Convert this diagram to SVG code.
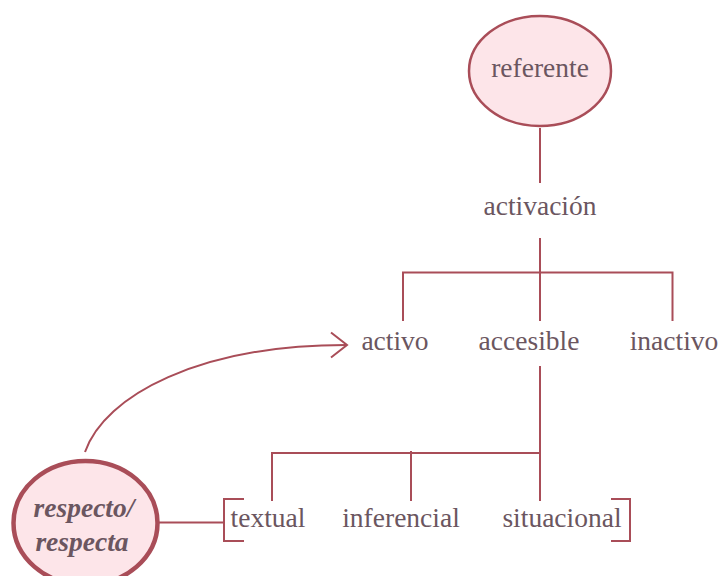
<svg xmlns="http://www.w3.org/2000/svg" width="721" height="576" viewBox="0 0 721 576">
<style>
.t{font-family:"Liberation Serif","Times New Roman",serif;font-size:27.5px;fill:#6b5660;text-anchor:middle}
.b{font-weight:bold;font-style:italic}
.ln{stroke:#a94d58;stroke-width:2;fill:none}
.nd{fill:#fde5e9;stroke:#a94d58}
</style>
<rect width="721" height="576" fill="#fff"/>
<g id="connectors" class="ln">
<line x1="540" y1="128" x2="540" y2="183"/>
<line x1="540" y1="238" x2="540" y2="321"/>
<polyline points="403,321 403,272.5 672.5,272.5 672.5,321"/>
<line x1="540" y1="366" x2="540" y2="453"/>
<polyline points="272,501 272,453 540,453 540,501"/>
<line x1="411" y1="451" x2="411" y2="501"/>
<line x1="159" y1="522.5" x2="224" y2="522.5"/>
<polyline points="244,499 224,499 224,541 244,541"/>
<polyline points="611,499 630,499 630,541 611,541"/>
<path d="M85,452 C105,395 200,345 346,345"/>
<polyline points="331,332.5 347,345 331,357.5"/>
</g>
<g id="referente">
<ellipse class="nd" cx="540" cy="71" rx="71" ry="55" stroke-width="2.5"/>
<text class="t" x="540" y="77">referente</text>
</g>
<g id="activacion"><text class="t" x="540" y="215">activación</text></g>
<g id="activo"><text class="t" x="395" y="350">activo</text></g>
<g id="accesible"><text class="t" x="529" y="350">accesible</text></g>
<g id="inactivo"><text class="t" x="674" y="350">inactivo</text></g>
<g id="textual"><text class="t" x="268" y="527">textual</text></g>
<g id="inferencial"><text class="t" x="401" y="527">inferencial</text></g>
<g id="situacional"><text class="t" x="562" y="527">situacional</text></g>
<g id="respecto">
<ellipse class="nd" cx="85.5" cy="523" rx="72" ry="62" stroke-width="4.5"/>
<text class="t b" x="84" y="517">respecto/</text>
<text class="t b" x="82" y="551">respecta</text>
</g>
</svg>
